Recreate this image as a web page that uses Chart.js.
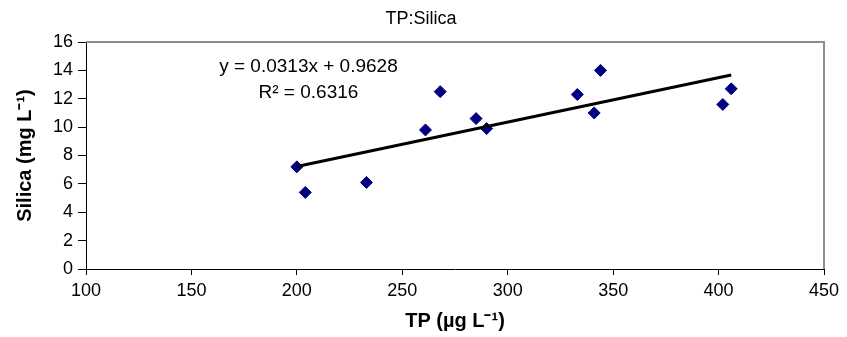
<!DOCTYPE html>
<html>
<head>
<meta charset="utf-8">
<script src="https://cdn.jsdelivr.net/npm/chart.js@4.4.1/dist/chart.umd.min.js"></script>
<style>
    html, body { margin: 0; padding: 0; background: #fff; }
    #wrap { width: 847px; height: 337px; }
</style>
</head>
<body>
<div id="wrap"><canvas id="myChart" width="847" height="337"></canvas></div>
<script>
// valeurs
const tpValues = [200, 204, 233, 261, 268, 285, 290, 333, 341, 344, 402, 406];
const silicaValues = [7.2, 5.4, 6.1, 9.8, 12.5, 10.6, 9.9, 12.3, 11.0, 14.0, 11.6, 12.7];
const xTicks = [100, 150, 200, 250, 300, 350, 400, 450];
const yTicks = [0, 2, 4, 6, 8, 10, 12, 14, 16];
const slope = 0.0313;
const intercept = 0.9628;
const equationText = "y = 0.0313x + 0.9628";
const r2Text = "R² = 0.6316";

const FONT = "'Liberation Sans', Arial, sans-serif";

// droite de tendance entre le min et le max de TP
const xMin = Math.min(...tpValues);
const xMax = Math.max(...tpValues);
const trend = [
    { x: xMin, y: slope * xMin + intercept },
    { x: xMax, y: slope * xMax + intercept },
];

const extras = {
    id: "extras",
    afterDraw(chart) {
        const { ctx, chartArea, scales } = chart;
        ctx.save();
        // bordure grise haut / droite
        ctx.strokeStyle = "#8c8c8c";
        ctx.lineWidth = 2;
        ctx.beginPath();
        ctx.moveTo(chartArea.left, chartArea.top);
        ctx.lineTo(chartArea.right, chartArea.top);
        ctx.lineTo(chartArea.right, chartArea.bottom);
        ctx.stroke();

        // titre
        ctx.fillStyle = "#000";
        ctx.textAlign = "center";
        ctx.textBaseline = "middle";
        ctx.font = "18px " + FONT;
        ctx.fillText("TP:Silica", 421, 19);

        // équation
        ctx.font = "19px " + FONT;
        ctx.fillText(equationText, scales.x.getPixelForValue(205.5), scales.y.getPixelForValue(14.23));
        ctx.fillText(r2Text, scales.x.getPixelForValue(205.5), scales.y.getPixelForValue(12.4));
        ctx.restore();
    },
};

const ctx = document.getElementById("myChart");

new Chart(ctx, {
    type: "scatter",
    data: {
        datasets: [
            {
                label: "TP:Silica",
                data: tpValues.map((v, i) => ({ x: v, y: silicaValues[i] })),
                pointStyle: "rectRot",
                pointRadius: 6,
                backgroundColor: "#000080",
                borderColor: "#000080",
                borderWidth: 1,
                order: 2,
            },
            {
                label: "Tendance",
                type: "line",
                data: trend,
                borderColor: "#000",
                borderWidth: 3,
                pointRadius: 0,
                fill: false,
                order: 1,
            },
        ],
    },
    options: {
        responsive: false,
        animation: false,
        events: [],
        layout: { padding: { top: 42, right: 23, left: 0, bottom: 0 } },
        plugins: {
            legend: { display: false },
            title: { display: false },
            tooltip: { enabled: false },
        },
        scales: {
            x: {
                type: "linear",
                min: 100,
                max: 450,
                afterBuildTicks(scale) {
                    scale.ticks = xTicks.map((v) => ({ value: v }));
                },
                afterFit(scale) {
                    scale.height = 68;
                },
                grid: {
                    drawOnChartArea: false,
                    drawTicks: true,
                    tickLength: 6,
                    color: "#000",
                },
                border: { display: true, color: "#000", width: 1 },
                ticks: {
                    color: "#000",
                    padding: 5,
                    maxRotation: 0,
                    font: { family: FONT, size: 18 },
                },
                title: {
                    display: true,
                    text: "TP (µg L⁻¹)",
                    color: "#000",
                    font: { family: FONT, size: 20, weight: "bold" },
                    padding: { top: 0, bottom: 4 },
                },
            },
            y: {
                min: 0,
                max: 16,
                afterBuildTicks(scale) {
                    scale.ticks = yTicks.map((v) => ({ value: v }));
                },
                afterFit(scale) {
                    scale.width = 86;
                },
                grid: {
                    drawOnChartArea: false,
                    drawTicks: true,
                    tickLength: 8,
                    color: "#000",
                },
                border: { display: true, color: "#000", width: 1 },
                ticks: {
                    color: "#000",
                    padding: 5,
                    font: { family: FONT, size: 18 },
                },
                title: {
                    display: true,
                    text: "Silica (mg L⁻¹)",
                    color: "#000",
                    font: { family: FONT, size: 20, weight: "bold" },
                    padding: { top: 13, bottom: 0 },
                },
            },
        },
    },
    plugins: [extras],
});
</script>
</body>
</html>
